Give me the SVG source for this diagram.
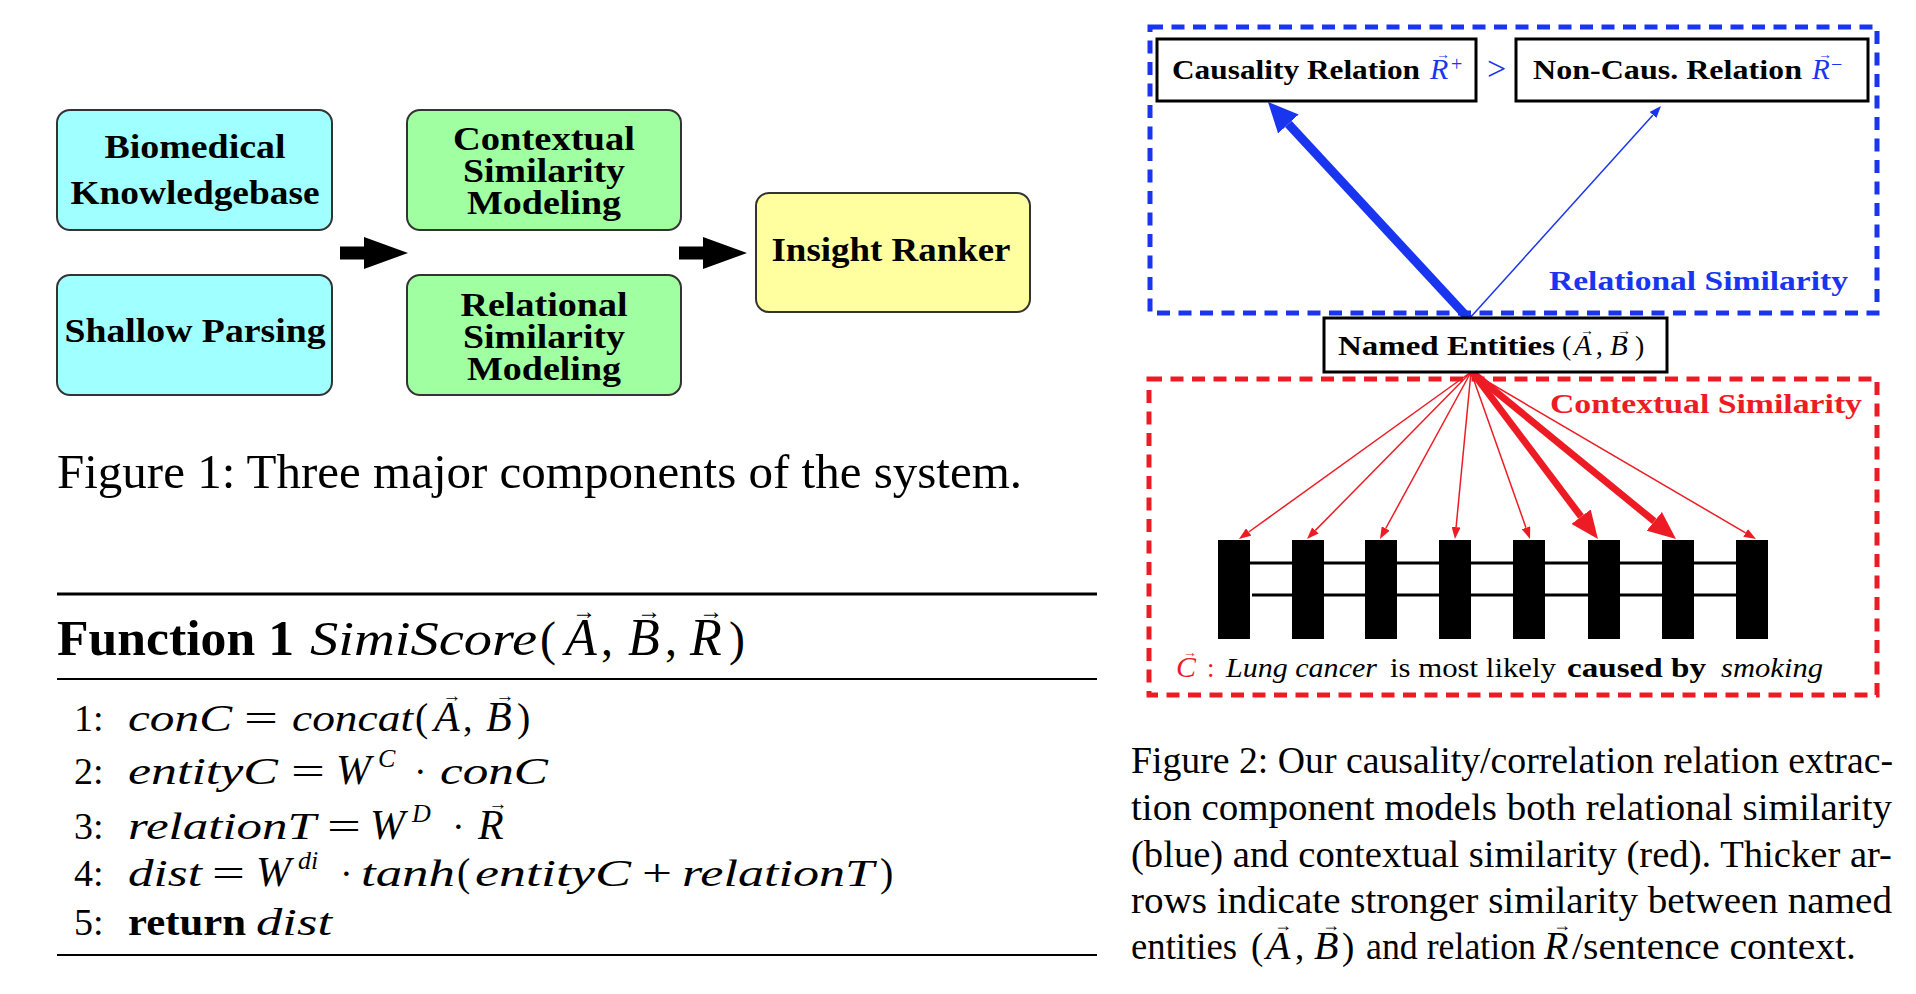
<svg xmlns="http://www.w3.org/2000/svg" width="1916" height="994" viewBox="0 0 1916 994">
  <defs>
    <style>
      text { font-family: "Liberation Serif", "Times New Roman", serif; fill: #000; }
      .b { font-weight: bold; }
      .i { font-style: italic; }
      .up { font-style: normal; }
      .arw { font-family: "Liberation Serif", "DejaVu Sans", serif; font-style: normal; text-anchor: middle; }
      .node { stroke: #333; stroke-width: 2; }
      .cyan { fill: #a0ffff; }
      .green { fill: #a0ffa0; }
      .yellow { fill: #ffff9f; }
      .blue { fill: #1a35f0; }
      .red { fill: #ed1c24; }
      .frame { fill: #fff; stroke: #000; stroke-width: 3; }
      .blueDash { fill: none; stroke: #1a35f0; stroke-width: 5; stroke-dasharray: 13 8.5; }
      .redDash { fill: none; stroke: #ed1c24; stroke-width: 5; stroke-dasharray: 13 8.5; }
      .bar { fill: #000; }
      .rail { stroke: #000; stroke-width: 3; }
      .bThick { stroke: #1a35f0; stroke-width: 9; fill: none; marker-end: url(#headBlueThick); }
      .bThin { stroke: #1a35f0; stroke-width: 1.5; fill: none; marker-end: url(#headBlueThin); }
      .rThick { stroke: #ed1c24; stroke-width: 7; fill: none; marker-end: url(#headRedThick); }
      .rThin { stroke: #ed1c24; stroke-width: 1.5; fill: none; marker-end: url(#headRedThin); }
      .blockArrow { fill: #000; }
    </style>
    <marker id="headBlueThick" markerUnits="userSpaceOnUse" viewBox="0 0 30 28" markerWidth="30" markerHeight="28" refX="0" refY="14" orient="auto">
      <path d="M0,0 L30,14 L0,28 z" fill="#1a35f0"/>
    </marker>
    <marker id="headBlueThin" markerUnits="userSpaceOnUse" viewBox="0 0 12 9" markerWidth="12" markerHeight="9" refX="0" refY="4.5" orient="auto">
      <path d="M0,0 L12,4.5 L0,9 z" fill="#1a35f0"/>
    </marker>
    <marker id="headRedThick" markerUnits="userSpaceOnUse" viewBox="0 0 28 24" markerWidth="28" markerHeight="24" refX="0" refY="12" orient="auto">
      <path d="M0,0 L28,12 L0,24 z" fill="#ed1c24"/>
    </marker>
    <marker id="headRedThin" markerUnits="userSpaceOnUse" viewBox="0 0 12 9" markerWidth="12" markerHeight="9" refX="0" refY="4.5" orient="auto">
      <path d="M0,0 L12,4.5 L0,9 z" fill="#ed1c24"/>
    </marker>
  </defs>

  <rect width="1916" height="994" fill="#fff"/>

  <!-- Figure 1: pipeline of system components -->
  <g id="fig1-connectors">
    <polygon class="blockArrow" points="340,246.5 364,246.5 364,237 408,253 364,269 364,259.5 340,259.5"/>
    <polygon class="blockArrow" points="679,246.5 703,246.5 703,237 747,253 703,269 703,259.5 679,259.5"/>
  </g>
  <g id="node-knowledgebase">
    <rect class="node cyan" x="57" y="110" width="275" height="120" rx="13"/>
    <text class="b" x="195" y="158" font-size="33" text-anchor="middle" textLength="181" lengthAdjust="spacingAndGlyphs">Biomedical</text>
    <text class="b" x="195" y="204" font-size="33" text-anchor="middle" textLength="249" lengthAdjust="spacingAndGlyphs">Knowledgebase</text>
  </g>
  <g id="node-parsing">
    <rect class="node cyan" x="57" y="275" width="275" height="120" rx="13"/>
    <text class="b" x="195" y="342" font-size="33" text-anchor="middle" textLength="261" lengthAdjust="spacingAndGlyphs">Shallow Parsing</text>
  </g>
  <g id="node-contextual">
    <rect class="node green" x="407" y="110" width="274" height="120" rx="13"/>
    <text class="b" x="544" y="150" font-size="33" text-anchor="middle" textLength="182" lengthAdjust="spacingAndGlyphs">Contextual</text>
    <text class="b" x="544" y="182" font-size="33" text-anchor="middle" textLength="162" lengthAdjust="spacingAndGlyphs">Similarity</text>
    <text class="b" x="544" y="214" font-size="33" text-anchor="middle" textLength="154" lengthAdjust="spacingAndGlyphs">Modeling</text>
  </g>
  <g id="node-relational">
    <rect class="node green" x="407" y="275" width="274" height="120" rx="13"/>
    <text class="b" x="544" y="316" font-size="33" text-anchor="middle" textLength="167" lengthAdjust="spacingAndGlyphs">Relational</text>
    <text class="b" x="544" y="348" font-size="33" text-anchor="middle" textLength="162" lengthAdjust="spacingAndGlyphs">Similarity</text>
    <text class="b" x="544" y="380" font-size="33" text-anchor="middle" textLength="154" lengthAdjust="spacingAndGlyphs">Modeling</text>
  </g>
  <g id="node-ranker">
    <rect class="node yellow" x="756" y="193" width="274" height="119" rx="13"/>
    <text class="b" x="891" y="261" font-size="33" text-anchor="middle" textLength="239" lengthAdjust="spacingAndGlyphs">Insight Ranker</text>
  </g>
  <text x="57" y="488" font-size="49" textLength="965" lengthAdjust="spacingAndGlyphs">Figure 1: Three major components of the system.</text>

  <!-- Function 1 listing -->
  <g id="function-listing">
    <line x1="57" y1="594" x2="1097" y2="594" stroke="#000" stroke-width="3"/>
    <text class="b" x="57" y="655" font-size="51" textLength="237" lengthAdjust="spacingAndGlyphs">Function 1</text>
    <text class="i" x="310" y="655" font-size="48" textLength="227" lengthAdjust="spacingAndGlyphs">SimiScore</text>
    <text x="540" y="655" font-size="48">(</text>
    <text class="i" x="565" y="655" font-size="52">A<tspan class="arw" x="584" y="619" font-size="24">→</tspan></text>
    <text x="601" y="655" font-size="48">,</text>
    <text class="i" x="628" y="655" font-size="52">B<tspan class="arw" x="649" y="619" font-size="24">→</tspan></text>
    <text x="665" y="655" font-size="48">,</text>
    <text class="i" x="690" y="655" font-size="52">R<tspan class="arw" x="711" y="619" font-size="24">→</tspan></text>
    <text x="729" y="655" font-size="48">)</text>
    <line x1="57" y1="679" x2="1097" y2="679" stroke="#000" stroke-width="2"/>

    <text x="74" y="731" font-size="38">1:</text>
    <text class="i" x="128" y="731" font-size="38" textLength="104" lengthAdjust="spacingAndGlyphs">conC</text>
    <text x="244" y="731" font-size="38" textLength="34" lengthAdjust="spacingAndGlyphs">=</text>
    <text class="i" x="292" y="731" font-size="38" textLength="121" lengthAdjust="spacingAndGlyphs">concat</text>
    <text x="415" y="731" font-size="40">(</text>
    <text class="i" x="434" y="731" font-size="42">A<tspan class="arw" x="452" y="702" font-size="19">→</tspan></text>
    <text x="463" y="731" font-size="38">,</text>
    <text class="i" x="486" y="731" font-size="42">B<tspan class="arw" x="505" y="702" font-size="19">→</tspan></text>
    <text x="517" y="731" font-size="40">)</text>

    <text x="74" y="784" font-size="38">2:</text>
    <text class="i" x="128" y="784" font-size="38" textLength="150" lengthAdjust="spacingAndGlyphs">entityC</text>
    <text x="291" y="784" font-size="38" textLength="34" lengthAdjust="spacingAndGlyphs">=</text>
    <text class="i" x="336" y="784" font-size="42">W<tspan x="378" y="767" font-size="26">C</tspan></text>
    <text x="414" y="784" font-size="38">·</text>
    <text class="i" x="440" y="784" font-size="38" textLength="108" lengthAdjust="spacingAndGlyphs">conC</text>

    <text x="74" y="839" font-size="38">3:</text>
    <text class="i" x="128" y="839" font-size="38" textLength="188" lengthAdjust="spacingAndGlyphs">relationT</text>
    <text x="327" y="839" font-size="38" textLength="34" lengthAdjust="spacingAndGlyphs">=</text>
    <text class="i" x="370" y="839" font-size="42">W<tspan x="412" y="822" font-size="26">D</tspan></text>
    <text x="452" y="839" font-size="38">·</text>
    <text class="i" x="478" y="839" font-size="42">R<tspan class="arw" x="498" y="810" font-size="19">→</tspan></text>

    <text x="74" y="886" font-size="38">4:</text>
    <text class="i" x="128" y="886" font-size="38" textLength="74" lengthAdjust="spacingAndGlyphs">dist</text>
    <text x="212" y="886" font-size="38" textLength="33" lengthAdjust="spacingAndGlyphs">=</text>
    <text class="i" x="256" y="886" font-size="42">W<tspan x="298" y="869" font-size="26">di</tspan></text>
    <text x="340" y="886" font-size="38">·</text>
    <text class="i" x="361" y="886" font-size="38" textLength="94" lengthAdjust="spacingAndGlyphs">tanh</text>
    <text x="457" y="886" font-size="40">(</text>
    <text class="i" x="475" y="886" font-size="38" textLength="156" lengthAdjust="spacingAndGlyphs">entityC</text>
    <text x="642" y="886" font-size="38" textLength="30" lengthAdjust="spacingAndGlyphs">+</text>
    <text class="i" x="682" y="886" font-size="38" textLength="192" lengthAdjust="spacingAndGlyphs">relationT</text>
    <text x="880" y="886" font-size="40">)</text>

    <text x="74" y="935" font-size="38">5:</text>
    <text class="b" x="128" y="935" font-size="38" textLength="118" lengthAdjust="spacingAndGlyphs">return</text>
    <text class="i" x="256" y="935" font-size="38" textLength="76" lengthAdjust="spacingAndGlyphs">dist</text>
    <line x1="57" y1="955" x2="1097" y2="955" stroke="#000" stroke-width="2"/>
  </g>

  <!-- Figure 2: relational (blue) and contextual (red) similarity -->
  <g id="region-relational">
    <rect class="blueDash" x="1150" y="27" width="727" height="286"/>
    <text class="b blue" x="1549" y="290" font-size="28" textLength="299" lengthAdjust="spacingAndGlyphs">Relational Similarity</text>
  </g>
  <g id="region-contextual">
    <rect class="redDash" x="1149" y="379" width="728" height="316"/>
    <text class="b red" x="1550" y="413" font-size="28" textLength="312" lengthAdjust="spacingAndGlyphs">Contextual Similarity</text>
  </g>

  <g id="connectors">
    <line class="bThick" x1="1469" y1="319" x2="1288.4" y2="124"/>
    <line class="bThin" x1="1469" y1="319" x2="1653" y2="114.9"/>
    <line class="rThin" x1="1471" y1="372" x2="1248.7" y2="532"/>
    <line class="rThin" x1="1471" y1="372" x2="1315.4" y2="530.4"/>
    <line class="rThin" x1="1471" y1="372" x2="1385.7" y2="528.5"/>
    <line class="rThin" x1="1471" y1="372" x2="1456.1" y2="527.1"/>
    <line class="rThin" x1="1471" y1="372" x2="1526" y2="527.7"/>
    <line class="rThick" x1="1473" y1="373" x2="1581.1" y2="516.7"/>
    <line class="rThick" x1="1473" y1="373" x2="1654.3" y2="521.3"/>
    <line class="rThin" x1="1471" y1="372" x2="1745.6" y2="532.9"/>
  </g>

  <g id="node-causal">
    <rect class="frame" x="1157" y="39" width="319" height="62"/>
    <text class="b" x="1172" y="79" font-size="27" textLength="248" lengthAdjust="spacingAndGlyphs">Causality Relation</text>
    <text class="i blue" x="1430" y="79" font-size="30">R<tspan class="arw" x="1443" y="59" font-size="14">→</tspan><tspan class="up" x="1451" y="71" font-size="20">+</tspan></text>
  </g>
  <text class="blue" x="1487" y="80" font-size="34">&gt;</text>
  <g id="node-noncausal">
    <rect class="frame" x="1516" y="39" width="352" height="62"/>
    <text class="b" x="1533" y="79" font-size="27" textLength="269" lengthAdjust="spacingAndGlyphs">Non-Caus. Relation</text>
    <text class="i blue" x="1812" y="79" font-size="29">R<tspan class="arw" x="1825" y="59" font-size="14">→</tspan><tspan class="up" x="1831" y="71" font-size="20">−</tspan></text>
  </g>
  <g id="node-entities">
    <rect class="frame" x="1324" y="318" width="343" height="54"/>
    <text class="b" x="1338" y="355" font-size="27" textLength="217" lengthAdjust="spacingAndGlyphs">Named Entities</text>
    <text x="1562" y="355" font-size="28">(</text>
    <text class="i" x="1574" y="355" font-size="29">A<tspan class="arw" x="1587" y="335" font-size="14">→</tspan></text>
    <text x="1596" y="355" font-size="27">,</text>
    <text class="i" x="1610" y="355" font-size="29">B<tspan class="arw" x="1624" y="335" font-size="14">→</tspan></text>
    <text x="1635" y="355" font-size="28">)</text>
  </g>
  <g id="node-sentence">
    <rect class="bar" x="1218" y="540" width="32" height="99"/>
    <rect class="bar" x="1292" y="540" width="32" height="99"/>
    <rect class="bar" x="1365" y="540" width="32" height="99"/>
    <rect class="bar" x="1439" y="540" width="32" height="99"/>
    <rect class="bar" x="1513" y="540" width="32" height="99"/>
    <rect class="bar" x="1588" y="540" width="32" height="99"/>
    <rect class="bar" x="1662" y="540" width="32" height="99"/>
    <rect class="bar" x="1736" y="540" width="32" height="99"/>
    <line class="rail" x1="1250" y1="563" x2="1736" y2="563"/>
    <line class="rail" x1="1252" y1="595" x2="1736" y2="595"/>
    <text class="i red" x="1176" y="677" font-size="30">C<tspan class="arw" x="1190" y="657" font-size="14">→</tspan></text>
    <text class="red" x="1207" y="677" font-size="27">:</text>
    <text class="i" x="1226" y="677" font-size="28" textLength="151" lengthAdjust="spacingAndGlyphs">Lung cancer</text>
    <text x="1390" y="677" font-size="28" textLength="166" lengthAdjust="spacingAndGlyphs">is most likely</text>
    <text class="b" x="1567" y="677" font-size="28" textLength="139" lengthAdjust="spacingAndGlyphs">caused by</text>
    <text class="i" x="1721" y="677" font-size="28" textLength="102" lengthAdjust="spacingAndGlyphs">smoking</text>
  </g>

  <g id="caption-2" font-size="37">
    <text x="1131" y="773" textLength="762" lengthAdjust="spacingAndGlyphs">Figure 2: Our causality/correlation relation extrac-</text>
    <text x="1131" y="820" textLength="761" lengthAdjust="spacingAndGlyphs">tion component models both relational similarity</text>
    <text x="1131" y="867" textLength="761" lengthAdjust="spacingAndGlyphs">(blue) and contextual similarity (red). Thicker ar-</text>
    <text x="1131" y="913" textLength="761" lengthAdjust="spacingAndGlyphs">rows indicate stronger similarity between named</text>
    <text x="1131" y="959" textLength="106" lengthAdjust="spacingAndGlyphs">entities</text>
    <text x="1251" y="959">(</text>
    <text class="i" x="1266" y="959" font-size="40">A<tspan class="arw" x="1283" y="931" font-size="18">→</tspan></text>
    <text x="1295" y="959">,</text>
    <text class="i" x="1314" y="959" font-size="40">B<tspan class="arw" x="1331" y="931" font-size="18">→</tspan></text>
    <text x="1342" y="959">)</text>
    <text x="1366" y="959" textLength="170" lengthAdjust="spacingAndGlyphs">and relation</text>
    <text class="i" x="1544" y="959" font-size="40">R<tspan class="arw" x="1562" y="931" font-size="18">→</tspan></text>
    <text x="1572" y="959" textLength="284" lengthAdjust="spacingAndGlyphs">/sentence context.</text>
  </g>
</svg>
